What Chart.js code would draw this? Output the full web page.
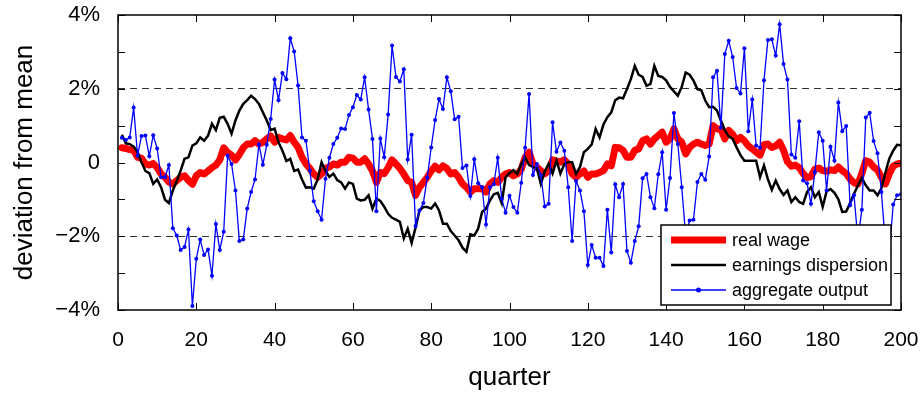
<!DOCTYPE html>
<html lang="en">
<head>
  <meta charset="UTF-8">
  <title>Deviation from mean</title>
  <script src="https://cdn.jsdelivr.net/npm/chart.js"></script>
  <style>
    body { margin: 0; padding: 0; background: #ffffff; }
    #wrap { width: 920px; height: 393px; }
  </style>
</head>
<body>
<div id="wrap"><canvas id="devChart" width="920" height="393"></canvas></div>

<script>
  // quarters 1..200
  const quarters = Array.from({ length: 200 }, (_, i) => i + 1);

  // real wage, % deviation from mean
  const realWage = [
    0.40, 0.38, 0.35, 0.33, 0.14, 0.12, -0.04, -0.07, -0.03, -0.14,
    -0.31, -0.40, -0.53, -0.59, -0.49, -0.40, -0.36, -0.49, -0.59, -0.36,
    -0.27, -0.31, -0.23, -0.14, -0.07, 0.07, 0.40, 0.27, 0.20, 0.07,
    0.22, 0.40, 0.50, 0.50, 0.59, 0.50, 0.55, 0.64, 0.72, 0.55,
    0.68, 0.64, 0.61, 0.73, 0.55, 0.41, 0.14, -0.04, -0.16, -0.31,
    -0.40, -0.31, -0.16, -0.12, -0.04, -0.07, 0.01, 0.01, 0.14, 0.12,
    0.01, 0.01, 0.10, -0.04, -0.23, -0.54, -0.27, -0.30, -0.14, 0.07,
    -0.04, -0.16, -0.31, -0.49, -0.54, -0.89, -0.67, -0.54, -0.40, -0.23,
    -0.10, -0.20, -0.09, -0.16, -0.31, -0.27, -0.40, -0.58, -0.67, -0.80,
    -0.71, -0.71, -0.71, -0.80, -0.58, -0.49, -0.54, -0.40, -0.31, -0.27,
    -0.36, -0.31, -0.18, 0.14, 0.28, -0.04, -0.13, -0.22, -0.31, -0.22,
    0.07, 0.04, 0.01, 0.07, -0.04, -0.31, -0.40, -0.31, -0.23, -0.40,
    -0.31, -0.31, -0.27, -0.22, -0.04, -0.09, 0.41, 0.40, 0.33, 0.14,
    0.14, 0.33, 0.37, 0.59, 0.64, 0.50, 0.64, 0.73, 0.82, 0.55,
    0.64, 0.91, 0.64, 0.55, 0.23, 0.41, 0.50, 0.55, 0.50, 0.46,
    0.50, 1.00, 0.91, 0.91, 0.64, 0.87, 0.76, 0.59, 0.68, 0.59,
    0.45, 0.37, 0.28, 0.20, 0.48, 0.50, 0.41, 0.45, 0.55, 0.33,
    0.02, -0.10, -0.07, -0.14, -0.30, -0.41, -0.38, -0.18, -0.15, -0.22,
    -0.24, -0.20, -0.22, -0.12, -0.22, -0.30, -0.45, -0.55, -0.58, -0.30,
    0.05, 0.01, -0.12, -0.20, -0.40, -0.58, -0.31, -0.10, -0.04, -0.02
  ];

  // earnings dispersion
  const earningsDisp = [
    0.75, 0.52, 0.50, 0.43, 0.28, 0.01, -0.23, -0.29, -0.58, -0.46,
    -0.67, -1.01, -1.10, -0.76, -0.50, -0.22, 0.10, 0.14, 0.46, 0.52,
    0.68, 0.59, 0.73, 1.05, 0.88, 1.21, 1.24, 1.05, 0.78, 1.14,
    1.41, 1.59, 1.69, 1.81, 1.72, 1.59, 1.36, 1.14, 0.88, 0.92,
    0.55, 0.32, 0.04, 0.10, -0.23, -0.19, -0.46, -0.68, -0.67, -0.71,
    -0.46, 0.01, -0.23, -0.39, -0.30, -0.48, -0.54, -0.71, -0.54, -0.58,
    -0.98, -1.03, -1.01, -0.89, -1.25, -0.98, -1.04, -1.20, -1.39, -1.50,
    -1.55, -1.61, -2.06, -1.80, -2.18, -1.77, -1.30, -1.21, -1.21, -1.25,
    -1.11, -1.30, -1.66, -1.66, -1.86, -1.98, -2.11, -2.31, -2.42, -1.95,
    -1.98, -1.79, -1.34, -1.25, -1.03, -0.86, -0.82, -1.10, -0.40, -0.29,
    -0.21, -0.31, -0.04, 0.14, -0.07, -0.12, -0.16, -0.58, -0.24, -0.04,
    -0.30, 0.05, -0.30, -0.04, 0.01, 0.01, -0.31, -0.12, 0.28, 0.37,
    0.49, 0.91, 0.68, 1.03, 1.23, 1.36, 1.69, 1.76, 1.74, 1.99,
    2.26, 2.62, 2.38, 2.32, 2.08, 2.13, 2.62, 2.35, 2.32, 2.23,
    2.05, 1.93, 1.81, 2.05, 2.44, 2.38, 2.22, 1.99, 1.96, 1.68,
    1.50, 1.51, 1.41, 1.14, 0.88, 0.71, 0.64, 0.41, 0.20, 0.05,
    0.05, 0.05, 0.05, -0.40, -0.08, -0.45, -0.74, -0.49, -0.72, -0.88,
    -0.76, -1.07, -0.94, -1.07, -1.12, -0.80, -0.67, -0.94, -0.80, -1.20,
    -0.78, -0.72, -0.82, -1.00, -1.34, -1.33, -1.10, -0.85, -0.62, -0.42,
    -0.62, -0.76, -0.76, -0.89, -0.70, -0.28, 0.10, 0.32, 0.48, 0.47
  ];

  // aggregate output
  const aggOutput = [
    0.67, 0.61, 0.68, 1.49, 0.19, 0.72, 0.73, 0.17, 0.74, 0.38,
    -0.40, -0.40, -0.07, -1.78, -1.98, -2.37, -2.29, -1.82, -3.89, -2.61,
    -2.09, -2.51, -2.36, -3.07, -1.67, -2.37, -1.88, 0.18, -0.04, -0.76,
    -2.13, -2.09, -1.25, -0.80, -0.46, 0.49, -0.06, 0.48, 1.18, 2.25,
    1.69, 2.43, 2.26, 3.37, 3.01, 2.09, 0.68, 0.59, -0.22, -1.05,
    -1.32, -1.55, -0.44, 0.13, 0.50, 0.67, 0.92, 0.91, 1.29, 1.50,
    1.83, 1.71, 2.31, 1.44, 0.64, -1.32, 0.65, 0.14, 1.30, 3.17,
    2.32, 2.20, 2.53, 0.08, 0.75, -1.72, -1.30, -1.10, -0.41, 0.41,
    1.15, 1.72, 1.45, 2.31, 1.93, 1.17, 1.24, -0.15, -0.08, -0.91,
    0.09, -0.56, -0.67, -1.68, -0.67, -0.59, 0.13, -0.98, -1.36, -0.90,
    -1.21, -1.36, -0.55, 0.40, 1.86, -0.34, -0.04, -0.34, -1.19, -1.12,
    1.09, 0.29, 0.54, 0.32, -0.67, -2.13, -0.50, -0.76, -1.32, -2.78,
    -2.24, -2.58, -2.58, -2.81, -1.28, -2.44, -0.59, -0.94, -0.58, -2.40,
    -2.72, -2.13, -1.73, -0.43, -0.31, -0.94, -1.24, -0.32, 0.28, -1.28,
    -0.42, 1.34, 0.50, -0.67, -2.00, -1.57, -1.55, -0.53, -0.31, -0.47,
    0.16, 2.31, 2.49, 0.94, 2.94, 3.30, 2.86, 2.02, 1.87, 3.10,
    0.85, 1.71, 0.46, 0.40, 2.23, 3.32, 3.34, 2.90, 3.75, 2.67,
    2.25, 0.22, 0.13, 1.12, -0.49, -0.56, -1.12, -0.26, 0.82, 0.59,
    -0.76, 0.43, 0.05, 1.63, 0.85, 0.99, -1.16, -0.89, -2.10, -1.28,
    1.22, 1.35, 0.58, 0.25, -0.80, -2.20, -2.50, -1.14, -0.89, -0.86
  ];

  const yTicks = [-4, -3, -2, -1, 0, 1, 2, 3, 4];
  const xTicks = [0, 20, 40, 60, 80, 100, 120, 140, 160, 180, 200];

  const FONT = "'Liberation Sans', Arial, Helvetica, sans-serif";

  function pts(values) {
    return quarters.map((q, i) => ({ x: q, y: values[i] }));
  }

  // frame and inward tick marks
  const framePlugin = {
    id: 'frame',
    afterDatasetsDraw(chart) {
      const { ctx, chartArea: a, scales } = chart;
      ctx.save();
      ctx.strokeStyle = '#000';
      ctx.lineWidth = 1;
      ctx.beginPath();
      yTicks.forEach(v => {
        const py = Math.round(scales.y.getPixelForValue(v)) + 0.5;
        ctx.moveTo(a.left, py); ctx.lineTo(a.left + 7, py);
        ctx.moveTo(a.right, py); ctx.lineTo(a.right - 7, py);
      });
      xTicks.forEach(v => {
        const px = Math.round(scales.x.getPixelForValue(v)) + 0.5;
        ctx.moveTo(px, a.bottom); ctx.lineTo(px, a.bottom - 7);
        ctx.moveTo(px, a.top); ctx.lineTo(px, a.top + 7);
      });
      ctx.stroke();
      ctx.lineWidth = 1.5;
      ctx.strokeRect(a.left, a.top, a.right - a.left, a.bottom - a.top);
      ctx.restore();
    }
  };

  // boxed legend drawn on top of the lines, bottom right of the plot
  const boxLegend = {
    id: 'boxLegend',
    afterDatasetsDraw(chart) {
      const { ctx, chartArea: a } = chart;
      const w = 230, h = 80;
      const x0 = a.right - 10 - w, y0 = a.bottom - 5 - h;
      ctx.save();
      ctx.fillStyle = '#fff';
      ctx.fillRect(x0, y0, w, h);
      ctx.strokeStyle = '#000';
      ctx.lineWidth = 1.5;
      ctx.strokeRect(x0, y0, w, h);
      ctx.font = '18px ' + FONT;
      ctx.textBaseline = 'middle';
      chart.data.datasets.forEach((ds, i) => {
        const cy = y0 + 15 + i * 25;
        ctx.strokeStyle = ds.borderColor;
        ctx.lineWidth = ds.borderWidth;
        ctx.beginPath();
        ctx.moveTo(x0 + 10, cy);
        ctx.lineTo(x0 + 65, cy);
        ctx.stroke();
        if (ds.pointRadius > 0) {
          ctx.fillStyle = ds.borderColor;
          ctx.beginPath();
          ctx.arc(x0 + 37.5, cy, 2.5, 0, Math.PI * 2);
          ctx.fill();
        }
        ctx.fillStyle = '#000';
        ctx.fillText(ds.label, x0 + 71, cy + 1);
      });
      ctx.restore();
    }
  };

  const ctx = document.getElementById('devChart').getContext('2d');
  const devChart = new Chart(ctx, {
    type: 'line',
    data: {
      datasets: [
        {
          label: 'real wage',
          data: pts(realWage),
          borderColor: '#ff0000',
          borderWidth: 7,
          borderJoinStyle: 'round',
          borderCapStyle: 'round',
          pointRadius: 0,
          tension: 0,
          order: 3
        },
        {
          label: 'earnings dispersion',
          data: pts(earningsDisp),
          borderColor: '#000000',
          borderWidth: 2.5,
          pointRadius: 0,
          tension: 0,
          order: 2
        },
        {
          label: 'aggregate output',
          data: pts(aggOutput),
          borderColor: '#0000ff',
          backgroundColor: '#0000ff',
          borderWidth: 1.3,
          pointRadius: 2,
          pointBorderWidth: 0,
          tension: 0,
          order: 1
        }
      ]
    },
    options: {
      responsive: false,
      animation: false,
      layout: { padding: 0 },
      plugins: {
        legend: { display: false },
        tooltip: { enabled: false }
      },
      scales: {
        x: {
          type: 'linear',
          min: 0,
          max: 200,
          afterFit(scale) {
            scale.height = 83;
            scale.paddingLeft = 0;
            scale.paddingRight = 19;
          },
          grid: { display: false, drawTicks: false },
          border: { display: false },
          ticks: {
            stepSize: 20,
            padding: 18,
            color: '#000',
            font: { family: FONT, size: 21 }
          },
          title: {
            display: true,
            text: 'quarter',
            color: '#000',
            padding: { top: 0, bottom: 0 },
            font: { family: FONT, size: 26 }
          }
        },
        y: {
          min: -4,
          max: 4,
          afterFit(scale) {
            scale.width = 118;
            scale.paddingTop = 15;
            scale.paddingBottom = 0;
          },
          grid: {
            drawTicks: false,
            lineWidth: 1,
            color: c => (c.tick && Math.abs(c.tick.value) === 2) ? '#333' : 'rgba(0,0,0,0)'
          },
          border: { display: false, dash: [7, 5] },
          ticks: {
            stepSize: 1,
            padding: 18,
            color: '#000',
            font: { family: FONT, size: 22 },
            callback: v => v === 0 ? '0' : (v % 2 === 0 ? (v < 0 ? '\u2212' + Math.abs(v) : v) + '%' : '')
          },
          title: {
            display: true,
            text: 'deviation from mean',
            color: '#000',
            padding: { top: 9, bottom: 0 },
            font: { family: FONT, size: 26 }
          }
        }
      }
    },
    plugins: [framePlugin, boxLegend]
  });
</script>
</body>
</html>
